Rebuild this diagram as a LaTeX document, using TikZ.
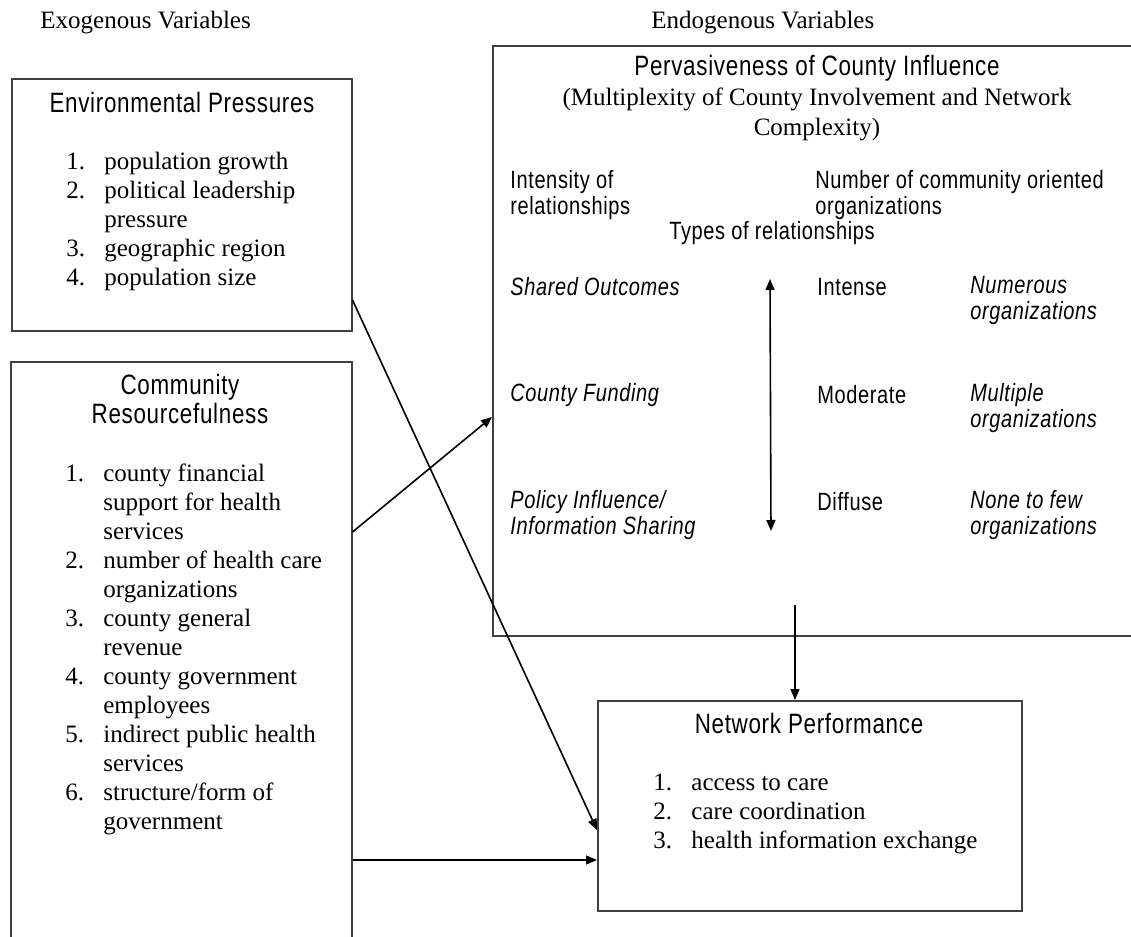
\documentclass[tikz,border=0pt]{standalone}
\usepackage{fontspec}
\setmainfont{Liberation Serif}
\newfontfamily\narrowsf[FakeStretch=0.8,LetterSpace=2.5]{Liberation Sans}
\usetikzlibrary{arrows.meta, positioning, calc}
\tikzset{
  box/.style={rectangle, draw=black!75, line width=0.75pt, anchor=north west, inner sep=0pt},
  head/.style={font=\narrowsf\fontsize{14}{14.5}\selectfont, align=center, inner sep=0pt},
  items/.style={font=\fontsize{12.5}{14.5}\selectfont, anchor=north west, inner sep=0pt},
  cell/.style={font=\narrowsf\fontsize{12.5}{13}\selectfont, align=left, anchor=west, inner sep=0pt},
  slant/.style={cell, font=\narrowsf\itshape\fontsize{12.5}{13}\selectfont},
  note/.style={font=\fontsize{12.5}{14.5}\selectfont, anchor=west, inner sep=0pt},
  arrow/.style={-{Triangle[length=5.5pt, width=4.5pt]}, line width=0.8pt},
  twoway/.style={{Triangle[length=5.5pt, width=4.5pt]}-{Triangle[length=5.5pt, width=4.5pt]}, line width=0.8pt}
}

\begin{document}
\begin{tikzpicture}[x=0.5pt, y=-0.5pt]
  \useasboundingbox (0,0) rectangle (1131,937);

  % Headings
  \node[note] (exo) at (40,23) {Exogenous Variables};
  \node[note] (endo) at (651,23) {Endogenous Variables};

  % Boxes
  \node[box, minimum width=170pt, minimum height=126pt] (env) at (11,78) {};
  \node[box, minimum width=170.5pt, minimum height=310pt] (comm) at (10,361) {};
  \node[box, minimum width=325pt, minimum height=295pt] (perv) at (492,45) {};
  \node[box, minimum width=212pt, minimum height=105pt] (net) at (597,700) {};

  % Exogenous side
  \node[head] (envhead) at (182,102) {Environmental Pressures};
  \node[items] (envlist) at (66,149) {\begin{tabular}{@{}p{19pt}@{}l@{}}
    1. & population growth\\
    2. & political leadership\\
       & pressure\\
    3. & geographic region\\
    4. & population size
  \end{tabular}};

  \node[head] (commhead) at (180,399) {Community\\Resourcefulness};
  \node[items] (commlist) at (65,461) {\begin{tabular}{@{}p{19pt}@{}l@{}}
    1. & county financial\\
       & support for health\\
       & services\\
    2. & number of health care\\
       & organizations\\
    3. & county general\\
       & revenue\\
    4. & county government\\
       & employees\\
    5. & indirect public health\\
       & services\\
    6. & structure/form of\\
       & government
  \end{tabular}};

  % Endogenous side
  \node[head, font=\fontsize{12.5}{15}\selectfont] (pervhead) at (817,98)
    {{\narrowsf\fontsize{14}{15}\selectfont Pervasiveness of County Influence}\\
     (Multiplexity of County Involvement and Network\\Complexity)};
  \node[cell] (intensity) at (510,195.5) {Intensity of\\relationships};
  \node[cell] (orgcount) at (815,195.5) {Number of community oriented\\organizations};
  \node[cell, anchor=center] (types) at (772,233) {Types of relationships};

  \node[slant] (shared) at (510,287) {Shared Outcomes};
  \node[cell] (intense) at (817,287) {Intense};
  \node[slant] (numerous) at (970,300) {Numerous\\organizations};
  \node[slant] (funding) at (510,395) {County Funding};
  \node[cell] (moderate) at (817,395) {Moderate};
  \node[slant] (multiple) at (970,408) {Multiple\\organizations};
  \node[slant] (policy) at (510,515) {Policy Influence/\\Information Sharing};
  \node[cell] (diffuse) at (817,502) {Diffuse};
  \node[slant] (fewer) at (970,515) {None to few\\organizations};

  \coordinate (scaletop) at (770,279);
  \coordinate (scalebot) at (771,531);
  \draw[twoway] (scaletop) -- (scalebot);

  \node[head] (nethead) at (809,723) {Network Performance};
  \node[items] (netlist) at (653,770) {\begin{tabular}{@{}p{19pt}@{}l@{}}
    1. & access to care\\
    2. & care coordination\\
    3. & health information exchange
  \end{tabular}};

  % Connections
  \coordinate (netlow) at ($(net.north west)+(0,160)$);
  \draw[arrow] ($(comm.north east)+(0,171)$) -- ($(perv.north west)+(0,372)$);
  \draw[arrow] ($(env.north east)+(0,222)$) -- ($(net.north west)+(0,130)$);
  \draw[arrow] (comm.east |- netlow) -- (netlow);
  \draw[arrow] ($(perv.south west)+(303,-32)$) -- ($(net.north west)+(198,0)$);
\end{tikzpicture}
\end{document}
